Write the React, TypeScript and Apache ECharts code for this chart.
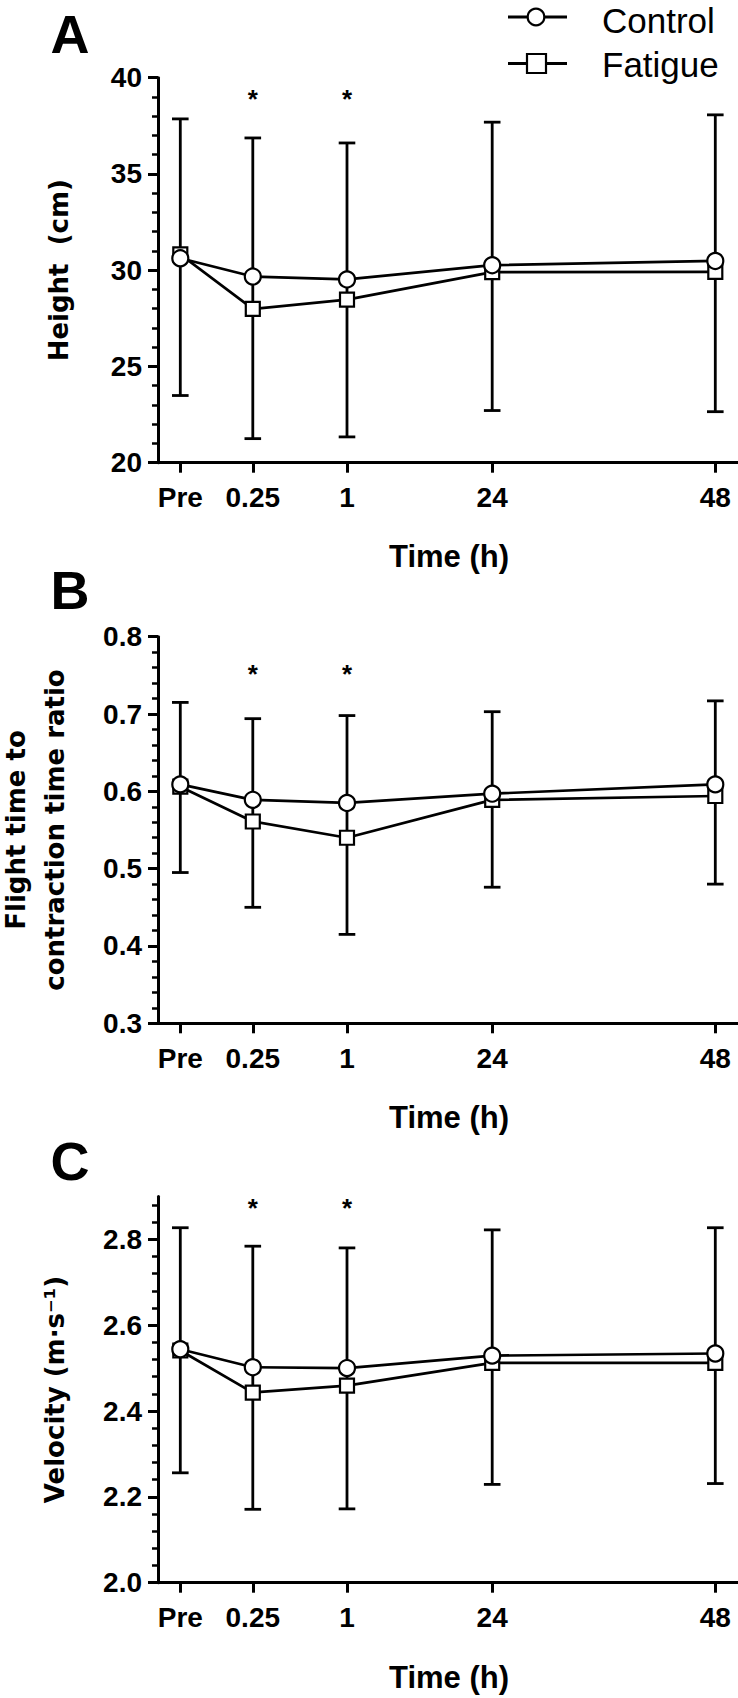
import React, { useEffect, useRef } from 'react';
import * as echarts from 'echarts';

// ---------------- data ----------------
const timeLabels = ['Pre', '0.25', '1', '24', '48'];
const starredTimes = ['0.25', '1'];

// Panel A – jump height (cm)
const heightControl = [30.62, 29.67, 29.52, 30.26, 30.48];
const heightFatigue = [30.82, 27.99, 28.47, 29.9, 29.91];
const heightUpper = [37.86, 36.87, 36.61, 37.69, 38.07];
const heightLower = [23.49, 21.25, 21.34, 22.71, 22.65];
const heightStar = 39.2;
const heightTicks = [20, 25, 30, 35, 40];

// Panel B – flight time to contraction time ratio
const ratioControl = [0.609, 0.589, 0.585, 0.597, 0.609];
const ratioFatigue = [0.606, 0.561, 0.54, 0.589, 0.594];
const ratioUpper = [0.715, 0.694, 0.698, 0.703, 0.717];
const ratioLower = [0.495, 0.45, 0.415, 0.476, 0.48];
const ratioStar = 0.759;
const ratioTicks = [0.3, 0.4, 0.5, 0.6, 0.7, 0.8];

// Panel C – velocity (m·s-1)
const velocityControl = [2.544, 2.502, 2.5, 2.529, 2.534];
const velocityFatigue = [2.541, 2.443, 2.459, 2.512, 2.512];
const velocityUpper = [2.827, 2.784, 2.78, 2.822, 2.827];
const velocityLower = [2.256, 2.171, 2.172, 2.229, 2.231];
const velocityStar = 2.888;
const velocityTicks = [2.0, 2.2, 2.4, 2.6, 2.8];

// ---------------- layout ----------------
// slot of each time point along the (uneven, GraphPad style) time axis
const TIME_SLOTS = [22.3, 94.8, 189, 334.2, 557.3];
const X_RANGE = 580;
const GRID_LEFT = 158;

const TICK_FONT = 'Liberation Sans, Arial, Helvetica, sans-serif';
const LETTER_FONT = 'Liberation Sans Narrow, Arial Narrow, Liberation Sans, Arial, sans-serif';
const TITLE_FONT = 'DejaVu Sans, Verdana, sans-serif';

type TitleLine = { text: string; x: number };

type Panel = {
  letter: string;
  top: number;
  height: number;
  min: number;
  max: number;
  ticks: number[];
  parts: number;
  decimals: number;
  control: number[];
  fatigue: number[];
  upper: number[];
  lower: number[];
  star: number;
  title: TitleLine[];
  letterY: number;
  timeY: number;
};

const panels: Panel[] = [
  {
    letter: 'A', top: 77.7, height: 385, min: 20, max: 40, ticks: heightTicks, parts: 5, decimals: 0,
    control: heightControl, fatigue: heightFatigue, upper: heightUpper, lower: heightLower, star: heightStar,
    title: [{ text: 'Height  (cm)', x: 59 }], letterY: 34, timeY: 556.5,
  },
  {
    letter: 'B', top: 636.7, height: 386.6, min: 0.3, max: 0.8, ticks: ratioTicks, parts: 5, decimals: 1,
    control: ratioControl, fatigue: ratioFatigue, upper: ratioUpper, lower: ratioLower, star: ratioStar,
    title: [{ text: 'Flight time to', x: 16 }, { text: 'contraction time ratio', x: 55 }], letterY: 590, timeY: 1117.5,
  },
  {
    letter: 'C', top: 1196.4, height: 386.3, min: 2.0, max: 2.9, ticks: velocityTicks, parts: 5, decimals: 1,
    control: velocityControl, fatigue: velocityFatigue, upper: velocityUpper, lower: velocityLower, star: velocityStar,
    title: [{ text: 'Velocity (m·s⁻¹)', x: 55 }], letterY: 1161, timeY: 1677,
  },
];

function minorTicks(ticks: number[], max: number, parts: number): number[] {
  const step = (ticks[1] - ticks[0]) / parts;
  const out: number[] = [];
  for (let i = 0; i < ticks.length; i++) {
    for (let k = 1; k < parts; k++) {
      const v = Number((ticks[i] + k * step).toFixed(5));
      if (v < max - 1e-9) out.push(v);
    }
  }
  return out;
}

function buildOption() {
  const grid: any[] = [];
  const xAxis: any[] = [];
  const yAxis: any[] = [];
  const series: any[] = [];
  const graphic: any[] = [];

  panels.forEach((p, i) => {
    grid.push({ left: GRID_LEFT, width: X_RANGE, top: p.top, height: p.height, containLabel: false });

    xAxis.push({
      type: 'value', gridIndex: i, min: 0, max: X_RANGE,
      axisLine: { show: true, onZero: false, lineStyle: { color: '#000', width: 3 } },
      axisTick: { show: true, inside: false, length: 10, customValues: TIME_SLOTS, lineStyle: { color: '#000', width: 3 } },
      axisLabel: {
        show: true, margin: 21, customValues: TIME_SLOTS, hideOverlap: false,
        color: '#000', fontFamily: TICK_FONT, fontWeight: 'bold', fontSize: 28,
        formatter: (v: number) => {
          const idx = TIME_SLOTS.findIndex((s) => Math.abs(s - v) < 1e-6);
          return idx >= 0 ? timeLabels[idx] : '';
        },
      },
      splitLine: { show: false },
    });

    yAxis.push({
      type: 'value', gridIndex: i, position: 'left', min: p.min, max: p.max,
      axisLine: { show: true, onZero: false, lineStyle: { color: '#000', width: 3 } },
      axisTick: { show: true, inside: false, length: 10, customValues: p.ticks, lineStyle: { color: '#000', width: 3 } },
      axisLabel: {
        show: true, margin: 16, customValues: p.ticks, hideOverlap: false,
        color: '#000', fontFamily: TICK_FONT, fontWeight: 'bold', fontSize: 28,
        formatter: (v: number) => v.toFixed(p.decimals),
      },
      splitLine: { show: false },
    });
    yAxis.push({
      type: 'value', gridIndex: i, position: 'left', min: p.min, max: p.max,
      axisLine: { show: false },
      axisTick: { show: true, inside: false, length: 6, customValues: minorTicks(p.ticks, p.max, p.parts), lineStyle: { color: '#000', width: 2.5 } },
      axisLabel: { show: false },
      splitLine: { show: false },
    });

    const yIdx = 2 * i;

    // error bars (drawn behind the markers)
    series.push({
      type: 'custom', name: 'SD ' + p.letter, xAxisIndex: i, yAxisIndex: yIdx, z: 1,
      encode: { x: 0, y: [1, 2] },
      data: TIME_SLOTS.map((s, k) => [s, p.lower[k], p.upper[k]]),
      renderItem: (params: any, api: any) => {
        const x = api.value(0);
        const lo = api.coord([x, api.value(1)]);
        const hi = api.coord([x, api.value(2)]);
        const half = 8.3;
        const st = { stroke: '#000', lineWidth: 2.8, fill: null };
        return {
          type: 'group',
          children: [
            { type: 'line', shape: { x1: lo[0], y1: lo[1], x2: hi[0], y2: hi[1] }, style: st },
            { type: 'line', shape: { x1: lo[0] - half, y1: lo[1], x2: lo[0] + half, y2: lo[1] }, style: st },
            { type: 'line', shape: { x1: hi[0] - half, y1: hi[1], x2: hi[0] + half, y2: hi[1] }, style: st },
          ],
        };
      },
      silent: true,
    });

    series.push({
      type: 'line', name: 'Fatigue', xAxisIndex: i, yAxisIndex: yIdx, z: 3,
      data: TIME_SLOTS.map((s, k) => [s, p.fatigue[k]]),
      symbol: 'rect', symbolSize: 14, showSymbol: true, showAllSymbol: true,
      lineStyle: { color: '#000', width: 2.7 },
      itemStyle: { color: '#fff', borderColor: '#000', borderWidth: 2.2 },
      emphasis: { disabled: true },
      silent: true,
    });

    series.push({
      type: 'line', name: 'Control', xAxisIndex: i, yAxisIndex: yIdx, z: 4,
      data: TIME_SLOTS.map((s, k) => [s, p.control[k]]),
      symbol: 'circle', symbolSize: 16, showSymbol: true, showAllSymbol: true,
      lineStyle: { color: '#000', width: 2.7 },
      itemStyle: { color: '#fff', borderColor: '#000', borderWidth: 2.2 },
      emphasis: { disabled: true },
      silent: true,
    });

    series.push({
      type: 'custom', name: 'Significance ' + p.letter, xAxisIndex: i, yAxisIndex: yIdx, z: 5,
      encode: { x: 0, y: 1 },
      data: starredTimes.map((t) => [TIME_SLOTS[timeLabels.indexOf(t)], p.star]),
      renderItem: (params: any, api: any) => {
        const pt = api.coord([api.value(0), api.value(1)]);
        return {
          type: 'text', x: pt[0], y: pt[1] + 6,
          style: { text: '*', fill: '#000', fontSize: 26, fontWeight: 'bold', fontFamily: TICK_FONT, align: 'center', verticalAlign: 'middle' },
        };
      },
      silent: true,
    });

    // panel letter
    graphic.push({
      type: 'text', x: 70, y: p.letterY,
      style: { text: p.letter, fill: '#000', fontSize: 54, fontWeight: 'bold', fontFamily: LETTER_FONT, align: 'center', verticalAlign: 'middle' },
    });
    // y axis title (one text per line)
    p.title.forEach((line) => {
      graphic.push({
        type: 'text', x: line.x, y: p.top + p.height / 2, rotation: Math.PI / 2,
        style: {
          text: line.text, fill: '#000', fontSize: 26, fontWeight: 'bold', fontFamily: TITLE_FONT,
          align: 'center', verticalAlign: 'middle',
        },
      });
    });
    // x axis title
    graphic.push({
      type: 'text', x: 449, y: p.timeY,
      style: { text: 'Time (h)', fill: '#000', fontSize: 31, fontWeight: 'bold', fontFamily: TICK_FONT, align: 'center', verticalAlign: 'middle' },
    });
  });

  // legend (top right)
  const legendRows = [
    { name: 'Control', y: 17, textY: 20, symbol: 'circle' },
    { name: 'Fatigue', y: 63.5, textY: 64, symbol: 'rect' },
  ];
  legendRows.forEach((r) => {
    graphic.push({ type: 'line', shape: { x1: 508, y1: r.y, x2: 567, y2: r.y }, style: { stroke: '#000', lineWidth: 3 } });
    if (r.symbol === 'circle') {
      graphic.push({ type: 'circle', shape: { cx: 536, cy: r.y, r: 8.3 }, style: { fill: '#fff', stroke: '#000', lineWidth: 2.2 } });
    } else {
      graphic.push({ type: 'rect', shape: { x: 527, y: r.y - 9.5, width: 19, height: 19 }, style: { fill: '#fff', stroke: '#000', lineWidth: 2.2 } });
    }
    graphic.push({
      type: 'text', x: 602, y: r.textY,
      style: { text: r.name, fill: '#000', fontSize: 35, fontFamily: TICK_FONT, align: 'left', verticalAlign: 'middle' },
    });
  });

  return {
    animation: false,
    backgroundColor: '#fff',
    grid,
    xAxis,
    yAxis,
    series,
    graphic,
  };
}

export default function App() {
  const ref = useRef<HTMLDivElement>(null);
  useEffect(() => {
    if (!ref.current) return;
    const chart = echarts.init(ref.current, null, { renderer: 'svg', width: 738, height: 1698 });
    chart.setOption(buildOption() as any);
    return () => chart.dispose();
  }, []);
  return (
    <div
      ref={ref}
      style={{ position: 'absolute', left: 0, top: 0, width: 738, height: 1698, background: '#fff' }}
    />
  );
}
